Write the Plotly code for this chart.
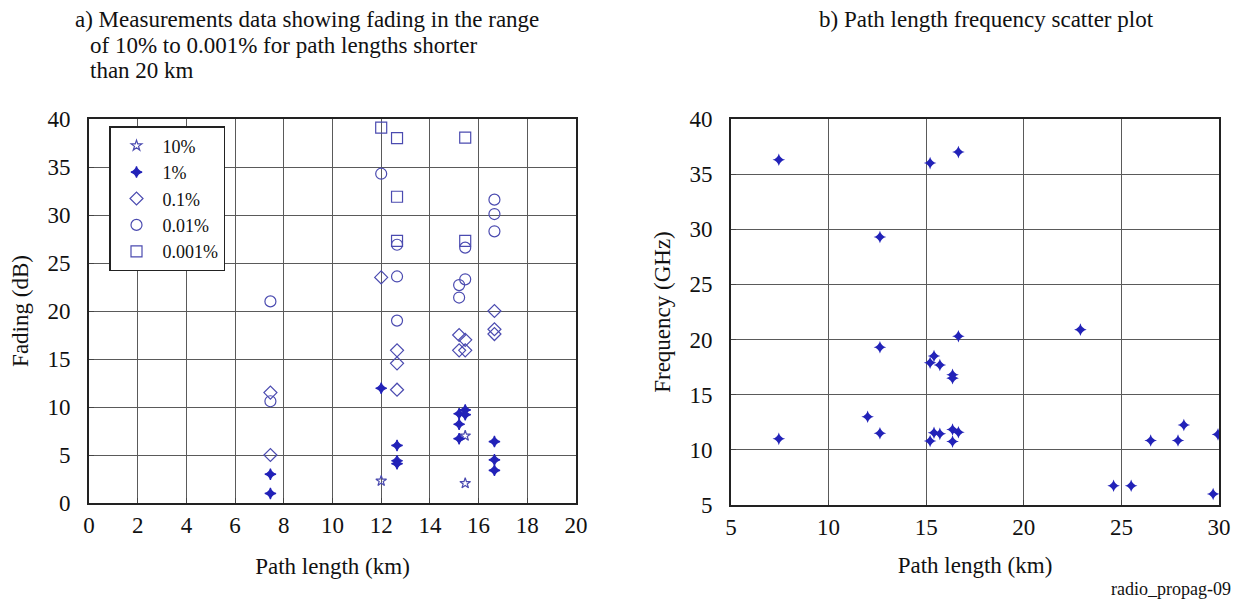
import plotly.graph_objects as go

# ---- a) Fading measurements by exceedance percentage ----
pct_labels = ["10%", "1%", "0.1%", "0.01%", "0.001%"]

len_10 = [12.0, 15.45, 15.45]
fade_10 = [2.3, 7.0, 2.05]

len_1 = [7.45, 7.45, 12.0, 12.65, 12.65, 12.65,
         15.45, 15.2, 15.45, 15.2, 15.2, 16.65, 16.65, 16.65]
fade_1 = [3.0, 1.0, 11.95, 6.0, 4.4, 4.1,
          9.7, 9.3, 9.2, 8.2, 6.7, 6.4, 4.5, 3.4]

len_01 = [7.45, 7.45, 12.0, 12.65, 12.65, 12.65,
          15.2, 15.45, 15.2, 15.45, 16.65, 16.65, 16.65]
fade_01 = [11.5, 5.0, 23.5, 15.9, 14.55, 11.8,
           17.5, 17.0, 15.9, 15.9, 20.0, 18.1, 17.6]

len_001 = [7.45, 7.45, 12.0, 12.65, 12.65, 12.65,
           15.45, 15.45, 15.2, 15.2, 16.65, 16.65, 16.65]
fade_001 = [21.0, 10.6, 34.3, 26.9, 23.6, 19.0,
            26.6, 23.3, 22.7, 21.4, 31.6, 30.1, 28.3]

len_0001 = [12.0, 12.65, 12.65, 12.65, 15.45, 15.45]
fade_0001 = [39.1, 38.0, 31.9, 27.3, 38.05, 27.3]

# ---- b) Path length vs frequency ----
path_km = [7.45, 15.2, 16.65, 12.63, 16.65, 12.63, 15.4, 15.2, 15.7,
           16.35, 16.35, 12.0, 12.63, 7.45, 15.4, 15.7, 15.2, 16.35,
           16.65, 16.35, 22.9, 28.2, 26.5, 27.9, 29.95, 24.6, 25.5, 29.7]
freq_ghz = [36.3, 36.0, 37.0, 29.3, 20.3, 19.3, 18.5, 17.9, 17.7,
            16.8, 16.5, 13.0, 11.5, 11.0, 11.55, 11.45, 10.8, 11.85,
            11.6, 10.75, 20.9, 12.25, 10.85, 10.85, 11.4, 6.75, 6.75, 6.0]

BLUE = "#2222b8"
OPEN_BLUE = "#4b4bb0"
SERIF = "Liberation Serif"
INK = "#111111"

fig = go.Figure()

series = [
    (len_10, fade_10, "star-open", 8, OPEN_BLUE),
    (len_1, fade_1, "star-diamond", 8, BLUE),
    (len_01, fade_01, "diamond-open", 10, OPEN_BLUE),
    (len_001, fade_001, "circle-open", 11, OPEN_BLUE),
    (len_0001, fade_0001, "square-open", 11, OPEN_BLUE),
]
for name, (xs, ys, sym, size, col) in zip(pct_labels, series):
    fig.add_trace(go.Scatter(
        x=xs, y=ys, mode="markers", name=name,
        marker=dict(symbol=sym, size=size, color=col,
                    line=dict(color=col, width=1.2)),
        xaxis="x", yaxis="y",
    ))

fig.add_trace(go.Scatter(
    x=path_km, y=freq_ghz, mode="markers", showlegend=False,
    marker=dict(symbol="star-diamond", size=9, color=BLUE,
                line=dict(color=BLUE, width=0)),
    xaxis="x2", yaxis="y2",
))

W, H = 1239, 602


def xdom(a, b):
    return [a / W, b / W]


def ydom(top, bottom):
    return [1 - bottom / H, 1 - top / H]


axis_common = dict(
    showgrid=True, gridcolor="#5a5a5a", gridwidth=1,
    showline=True, linecolor="#222222", linewidth=2, mirror=True,
    ticks="inside", ticklen=5, tickcolor="#444444",
    zeroline=False, automargin=False,
    tickfont=dict(family=SERIF, size=23, color=INK),
    title_font=dict(family=SERIF, size=23, color=INK),
)

fig.update_layout(
    width=W, height=H,
    template="none",
    margin=dict(l=0, r=0, t=0, b=0),
    paper_bgcolor="white", plot_bgcolor="white",
    font=dict(family=SERIF, color=INK),
    xaxis=dict(domain=xdom(89, 576), range=[0, 20], dtick=2,
               ticklabelstandoff=0,
               title=dict(text="Path length (km)", standoff=21),
               anchor="y", **axis_common),
    yaxis=dict(domain=ydom(119, 503), range=[0, 40], dtick=5,
               ticklabelstandoff=12,
               title=dict(text="Fading (dB)", standoff=12),
               anchor="x", **axis_common),
    xaxis2=dict(domain=xdom(731, 1219), range=[5, 30], dtick=5,
                ticklabelstandoff=0,
                title=dict(text="Path length (km)", standoff=18),
                anchor="y2", **axis_common),
    yaxis2=dict(domain=ydom(119, 505), range=[5, 40], dtick=5,
                ticklabelstandoff=12,
                title=dict(text="Frequency (GHz)", standoff=12),
                anchor="x2", **axis_common),
    legend=dict(
        x=109 / W, y=1 - 126 / H, xanchor="left", yanchor="top",
        bgcolor="white", bordercolor="#222222", borderwidth=1.5,
        font=dict(family=SERIF, size=18, color=INK),
        tracegroupgap=0, itemwidth=42,
    ),
)

# Panel titles: one annotation per line keeps the line spacing tight
title_a = [
    (73, "a) Measurements data showing fading in the range"),
    (88, "of 10% to 0.001% for path lengths shorter"),
    (88, "than 20 km"),
]
for i, (x0, line) in enumerate(title_a):
    fig.add_annotation(text=line, x=x0 / W, y=1 - (5 + 25.5 * i) / H,
                       xref="paper", yref="paper", xanchor="left",
                       yanchor="top", showarrow=False,
                       font=dict(family=SERIF, size=23, color=INK))

fig.add_annotation(text="b) Path length frequency scatter plot",
                   x=986 / W, y=1 - 5 / H, xref="paper", yref="paper",
                   xanchor="center", yanchor="top", showarrow=False,
                   font=dict(family=SERIF, size=23, color=INK))
fig.add_annotation(text="radio_propag-09",
                   x=1233 / W, y=1 - 601 / H, xref="paper", yref="paper",
                   xanchor="right", yanchor="bottom", showarrow=False,
                   font=dict(family=SERIF, size=18, color=INK))

fig.write_html("out.html")
